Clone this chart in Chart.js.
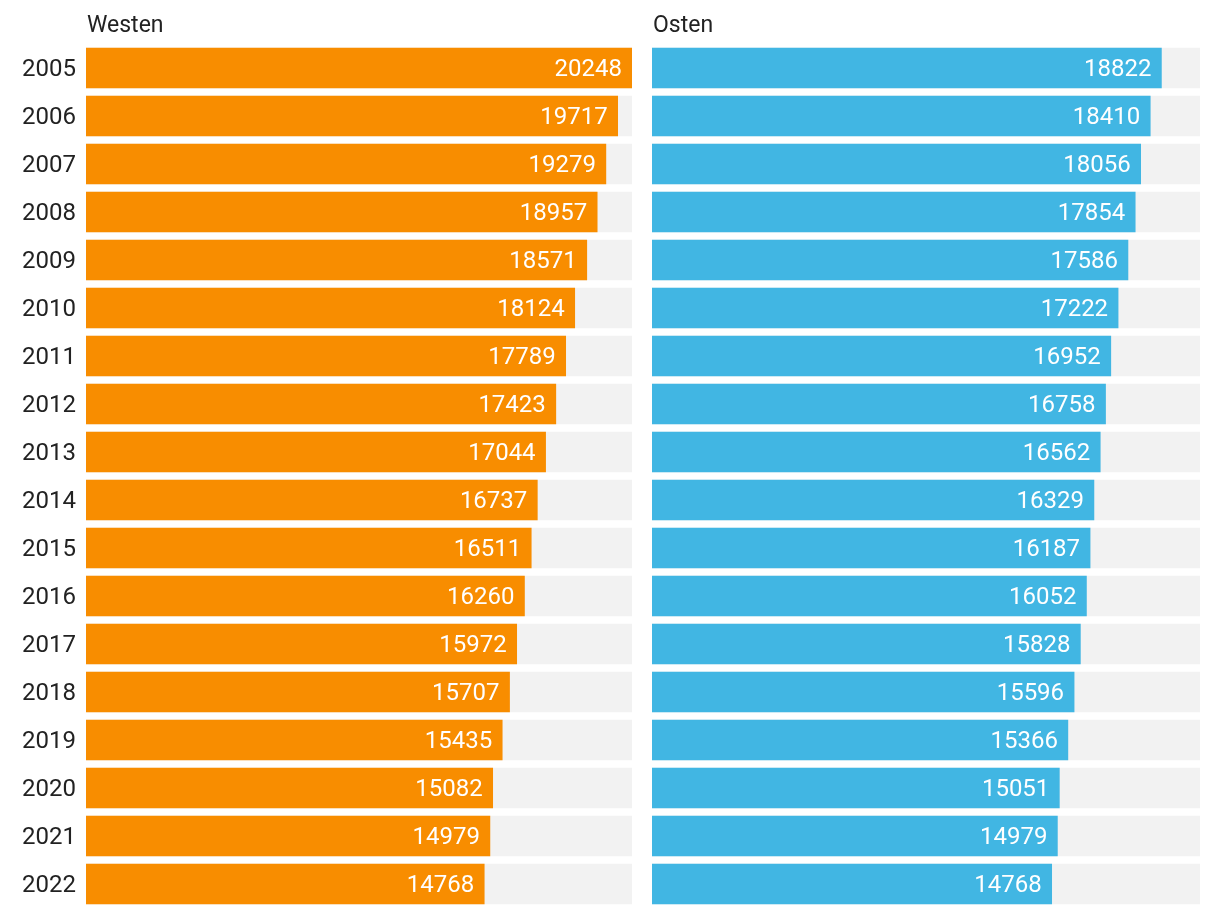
<!DOCTYPE html>
<html>
<head>
<meta charset="utf-8">
<script src="https://cdn.jsdelivr.net/npm/chart.js@4/dist/chart.umd.min.js"></script>
<style>
  html, body { margin: 0; padding: 0; background: #fff; }
  #wrap { position: relative; width: 1220px; height: 914px; }
  #left { position: absolute; left: 0; top: 0; }
  #right { position: absolute; left: 640px; top: 0; }
</style>
</head>
<body>
<div id="wrap">
  <div id="left" style="width:640px;height:914px"><canvas id="westCanvas"></canvas></div>
  <div id="right" style="width:580px;height:914px"><canvas id="ostCanvas"></canvas></div>
</div>
<script>
var years = ['2005', '2006', '2007', '2008', '2009', '2010', '2011', '2012', '2013',
  '2014', '2015', '2016', '2017', '2018', '2019', '2020', '2021', '2022']
var westen = [20248, 19717, 19279, 18957, 18571, 18124, 17789, 17423, 17044,
  16737, 16511, 16260, 15972, 15707, 15435, 15082, 14979, 14768]
var osten = [18822, 18410, 18056, 17854, 17586, 17222, 16952, 16758, 16562,
  16329, 16187, 16052, 15828, 15596, 15366, 15051, 14979, 14768]
var maxValue = 20248

var font = 'Roboto, "Noto Sans", sans-serif'

// labels inside bar end + panel title
var labelPlugin = {
  id: 'labels',
  afterDatasetsDraw: function (chart) {
    var ctx = chart.ctx
    var meta = chart.getDatasetMeta(1)
    var vals = chart.data.datasets[1].data
    ctx.save()
    ctx.font = '24px ' + font
    ctx.fillStyle = '#ffffff'
    ctx.textAlign = 'right'
    ctx.textBaseline = 'middle'
    meta.data.forEach(function (bar, i) {
      ctx.fillText(String(vals[i]), bar.x - 10, bar.y + 2)
    })
    ctx.font = '23px ' + font
    ctx.fillStyle = '#222222'
    ctx.textAlign = 'left'
    ctx.textBaseline = 'alphabetic'
    ctx.fillText(chart.options.panelTitle, chart.chartArea.left + 1, 32)
    ctx.restore()
  },
}

function makeChart(id, values, color, title, showYears, padding) {
  var ctx = document.getElementById(id).getContext('2d')
  return new Chart(ctx, {
    type: 'bar',
    data: {
      labels: years,
      datasets: [
        {
          data: years.map(function () { return maxValue }),
          backgroundColor: '#f2f2f2',
          barThickness: 40,
          grouped: false,
          order: 2,
        },
        {
          data: values,
          backgroundColor: color,
          barThickness: 40,
          grouped: false,
          order: 1,
        },
      ],
    },
    options: {
      panelTitle: title,
      indexAxis: 'y',
      responsive: true,
      maintainAspectRatio: false,
      animation: false,
      layout: { padding: padding },
      plugins: {
        legend: { display: false },
        tooltip: { enabled: false },
      },
      scales: {
        x: {
          display: false,
          min: 0,
          max: maxValue,
        },
        y: {
          display: showYears,
          grid: { display: false, drawTicks: false },
          border: { display: false },
          ticks: {
            color: '#222222',
            font: { family: font, size: 24 },
            padding: 10,
            labelOffset: 2,
          },
          afterFit: function (axis) {
            if (showYears) axis.width = 86
            axis.paddingTop = 0
            axis.paddingBottom = 0
          },
        },
      },
    },
    plugins: [labelPlugin],
  })
}

makeChart('westCanvas', westen, '#f88d00', 'Westen', true,
  { top: 44, bottom: 6, left: 0, right: 8 })
makeChart('ostCanvas', osten, '#41b6e3', 'Osten', false,
  { top: 44, bottom: 6, left: 12, right: 20 })
</script>
</body>
</html>
